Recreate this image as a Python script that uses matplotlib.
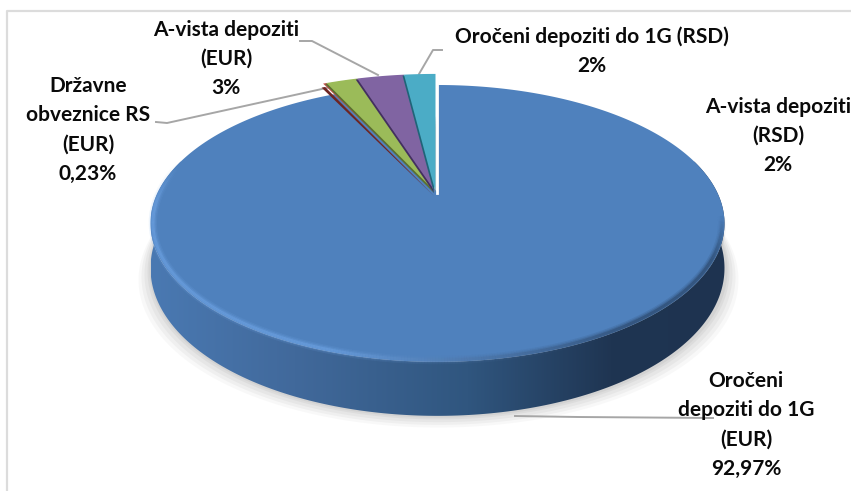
import numpy as np
import matplotlib
matplotlib.use('Agg')
import matplotlib.pyplot as plt
from matplotlib.patches import Polygon
from matplotlib.colors import LinearSegmentedColormap, to_rgb

# Slices, clockwise from 12 o'clock
names = ['Oročeni depoziti do 1G (EUR)', 'Državne obveznice RS (EUR)', 'A-vista depoziti (RSD)',
         'A-vista depoziti (EUR)', 'Oročeni depoziti do 1G (RSD)']
values = [92.97, 0.23, 2, 3, 2]
colors = ['#4f81bd', '#c0504d', '#9bbb59', '#8064a2', '#4bacc6']
darks = ['#1f3552', '#6e2422', '#5a7030', '#43305f', '#1f6478']

# perspective of the pie disc (pixels)
CX, CY = 437.5, 192
RX, RY, K = 279.5, 131.3, 0.227


def project(u, v):
    d = 1 + K * v
    return CX + RX * u / d, CY - RY * v / d


def disc(th1, th2, r=1.0, n=400):
    # th measured clockwise from 12 o'clock, degrees
    t = np.radians(np.linspace(th1, th2, n))
    return project(r * np.sin(t), r * np.cos(t)), t


fig = plt.figure(figsize=(8.51, 4.91), dpi=100)
ax = fig.add_axes([0, 0, 1, 1])
ax.set_xlim(0, 851)
ax.set_ylim(491, 0)
ax.axis('off')

# frame (only left and top are visible)
ax.plot([7, 7, 851], [491, 11, 11], color='#dcdcdc', lw=1.6, zorder=1)

# soft shadow under the disc
(xs, ys), t = disc(0, 360)
wall = 42 - 12 * np.cos(t)
for grow, a in zip([13, 10, 7, 4, 2], [0.05, 0.07, 0.08, 0.09, 0.10]):
    cx_ = xs.mean()
    sx = cx_ + (xs - cx_) * (1 + grow / 287) + 1
    sy = ys + wall + grow * 0.9
    ax.fill(sx, sy, color='#808080', alpha=a, lw=0, zorder=2)

# side wall with left-to-right gradient
bx, by = xs, ys + wall
front = np.cos(t) < 0.25
order = np.argsort(t[front])
fx, fy = xs[front][order], ys[front][order]
lx, ly = bx[front][order], by[front][order]
wall_poly = Polygon(np.r_[np.c_[fx, fy], np.c_[lx, ly][::-1]], closed=True, fc='none', ec='none')
ax.add_patch(wall_poly)
cmap = LinearSegmentedColormap.from_list('wall', [(0, '#4a79b2'), (0.25, '#41699b'), (0.55, '#30567f'),
                                                  (0.8, '#1f3552'), (1, '#1e3350')])
img = ax.imshow(np.linspace(0, 1, 256)[None, :], extent=(151, 727, 430, 150), cmap=cmap, aspect='auto', zorder=3)
img.set_clip_path(wall_poly)
ax.set_xlim(0, 851)
ax.set_ylim(491, 0)

# main slice
frac = np.array(values) / sum(values)
ends = np.cumsum(frac) * 360
(mx, my), _ = disc(0, ends[0])
ax.add_patch(Polygon(np.r_[np.c_[mx, my], [[CX, CY]]], closed=True, fc=colors[0], ec='none', zorder=4))

# bevel along the front rim: light on the left, dark on the right
(ex, ey), et = disc(100, 282, r=0.992)
light = np.array(to_rgb('#78aef0'))
dark = np.array(to_rgb('#20344f'))
for w, a in zip([6, 4, 2.2], [0.12, 0.2, 0.35]):
    for i in range(len(ex) - 1):
        p = np.clip((ex[i] - 330) / 300, 0, 1)
        fade = min(1, (i + 1) / 40, (len(ex) - i) / 40)
        ax.plot(ex[i:i + 2], ey[i:i + 2], color=light * (1 - p) + dark * p, lw=w, alpha=a * fade,
                solid_capstyle='butt', zorder=5)

# the small slices stick out of the disc
R_OUT = 1.13
for i in [1, 2, 3, 4]:
    (sx, sy), _ = disc(ends[i - 1], ends[i], r=R_OUT, n=30)
    pts = np.r_[np.c_[sx, sy], [[CX, CY]]] + [-2, 0]
    ax.add_patch(Polygon(pts + [-1.5, 4 if i == 1 else 1], closed=True, fc=darks[i], ec='none', zorder=6 + i))
    ax.add_patch(Polygon(pts, closed=True, fc=colors[i], ec='none', zorder=6 + i))

# white gap beside the main slice
ax.plot([437, 437], [80, 193], color='white', lw=2, zorder=12)

# leader lines
leader = '#a6a6a6'
ax.plot([156, 167, 331], [122, 123, 87], color=leader, lw=1.4, zorder=6)
ax.plot([300, 312, 378], [41, 41, 75], color=leader, lw=1.4, zorder=6)
ax.plot([442, 433, 419], [50, 50, 74], color=leader, lw=1.4, zorder=6)
ax.plot([515, 578, 713], [416, 417, 418], color=leader, lw=1.4, zorder=6)

# labels
font = dict(family='Lato', fontweight='bold', fontsize=15, color='#0a0a0a', ha='center', va='center',
            linespacing=1.58, zorder=13)
ax.text(226, 59, 'A-vista depoziti\n(EUR)\n3%', **font)
ax.text(88, 130, 'Državne\nobveznice RS\n(EUR)\n0,23%', **font)
ax.text(592, 51, 'Oročeni depoziti do 1G (RSD)\n2%', **font)
ax.text(778, 136, 'A-vista depoziti\n(RSD)\n2%', **font)
ax.text(746, 425, 'Oročeni\ndepoziti do 1G\n(EUR)\n92,97%', **font)

fig.savefig('out.png', dpi=100, facecolor='white')
